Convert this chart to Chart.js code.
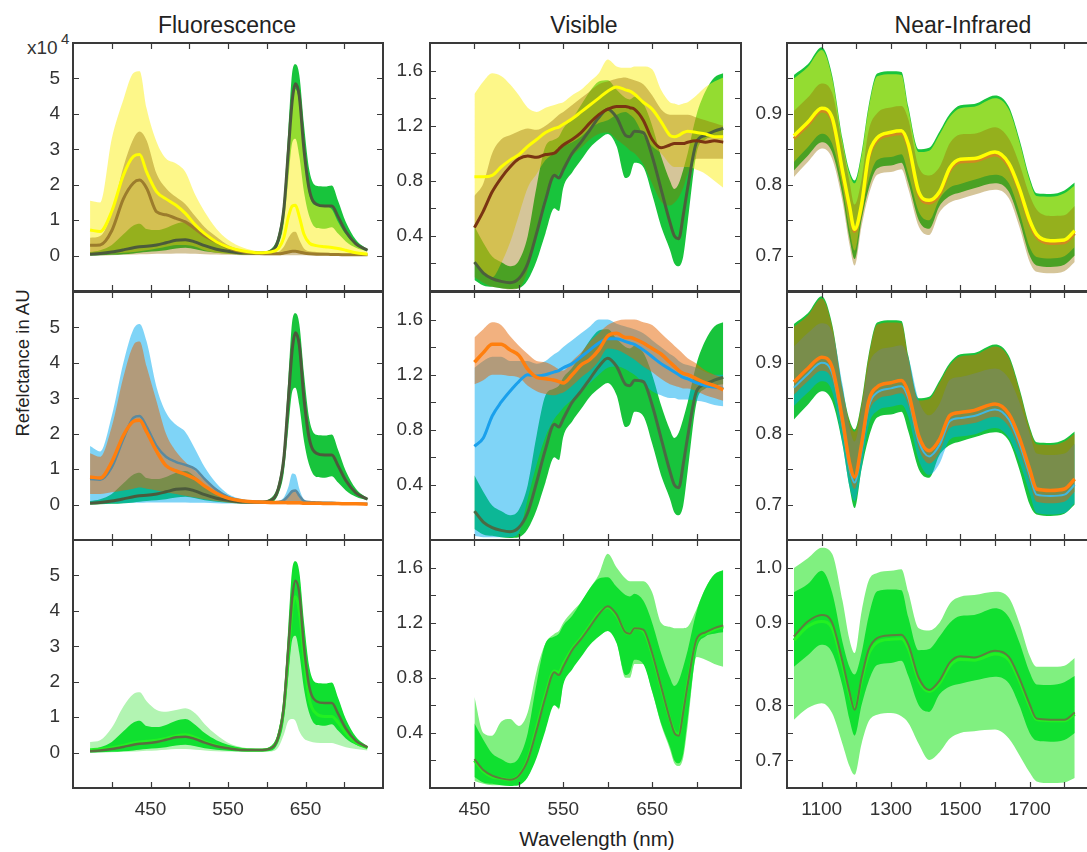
<!DOCTYPE html>
<html>
<head>
<meta charset="utf-8">
<script src="https://cdn.jsdelivr.net/npm/chart.js@4.4.1/dist/chart.umd.min.js"></script>
<style>
html, body { margin: 0; padding: 0; width: 1087px; height: 852px; overflow: hidden; background: #fff; }
body { position: relative; font-family: 'Liberation Sans', Arial, sans-serif; color: #222; }
canvas { position: absolute; }
.lbl { position: absolute; white-space: nowrap; line-height: 1; }
</style>
</head>
<body>
<div class="lbl" style="left:227px;top:14px;font-size:23px;transform:translateX(-50%)">Fluorescence</div>
<div class="lbl" style="left:584px;top:14px;font-size:23px;transform:translateX(-50%)">Visible</div>
<div class="lbl" style="left:963px;top:14px;font-size:23px;transform:translateX(-50%)">Near-Infrared</div>
<div class="lbl" style="left:27px;top:38px;font-size:19px;color:#333">x10</div>
<div class="lbl" style="left:61px;top:31px;font-size:15px;color:#333">4</div>
<div class="lbl" style="left:23px;top:363px;font-size:18.5px;transform:translate(-50%,-50%) rotate(-90deg)">Refelctance in AU</div>
<div class="lbl" style="left:597px;top:829px;font-size:20.5px;transform:translateX(-50%)">Wavelength (nm)</div>
<script>
// ---- wavelengths (nm) ----
const fluoWl = [372, 385, 400, 415, 428, 436, 445, 458, 470, 483, 495, 508, 520, 535, 550, 570, 590, 605, 615, 622, 628, 633, 637, 642, 648, 655, 664, 675, 684, 692, 702, 715, 730];
const visWl = [450, 460, 470, 480, 490, 500, 510, 520, 530, 540, 545, 550, 560, 570, 580, 590, 600, 610, 620, 625, 630, 640, 650, 660, 670, 675, 680, 685, 690, 700, 710, 720, 730];
const nirWl = [1020, 1060, 1100, 1130, 1160, 1180, 1195, 1215, 1235, 1260, 1300, 1330, 1350, 1380, 1410, 1440, 1470, 1500, 1540, 1600, 1640, 1670, 1700, 1720, 1760, 1800, 1830];

// ---- tick positions / labels ----
const fluoXTicks = [400, 450, 500, 550, 600, 650, 700];
const fluoXLabels = [450, 550, 650];
const visXTicks = [450, 500, 550, 600, 650, 700];
const visXLabels = [450, 550, 650];
const nirXTicks = [1100, 1200, 1300, 1400, 1500, 1600, 1700, 1800];
const nirXLabels = [1100, 1300, 1500, 1700];
const fluoYTicks = [0, 1, 2, 3, 4, 5];
const visYTicks = [0.2, 0.4, 0.6, 0.8, 1.0, 1.2, 1.4, 1.6];
const visYLabels = [0.4, 0.8, 1.2, 1.6];
const nirYTicks = [0.7, 0.75, 0.8, 0.85, 0.9, 0.95];
const nirYLabels = [0.7, 0.8, 0.9];
const nirRow3TickValues = [1.0, 0.95, 0.9, 0.85, 0.8, 0.75, 0.7, 0.65];
const nirRow3TickLabels = ['1.0', '', '0.9', '', '', '0.8', '', '0.7'];

// ---- Fluorescence (x10^4) ----
const fluoGreenUp   = [0.1, 0.15, 0.3, 0.6, 0.85, 0.9, 0.75, 0.72, 0.78, 0.9, 0.95, 0.78, 0.55, 0.35, 0.22, 0.12, 0.1, 0.18, 0.6, 1.6, 3.6, 5.2, 5.4, 5.1, 3.7, 2.4, 1.97, 1.95, 1.98, 1.55, 0.95, 0.45, 0.18];
const fluoGreenLow  = [0, 0.01, 0.02, 0.04, 0.06, 0.08, 0.1, 0.12, 0.15, 0.2, 0.22, 0.18, 0.12, 0.08, 0.05, 0.03, 0.03, 0.05, 0.3, 0.9, 2.2, 3.2, 3.3, 2.8, 1.8, 1.1, 0.78, 0.76, 0.8, 0.62, 0.4, 0.22, 0.12];
const fluoGreenMean = [0.04, 0.06, 0.1, 0.16, 0.22, 0.25, 0.26, 0.3, 0.36, 0.43, 0.45, 0.38, 0.28, 0.18, 0.12, 0.07, 0.07, 0.12, 0.45, 1.3, 3.0, 4.4, 4.85, 4.5, 3.0, 1.85, 1.45, 1.4, 1.4, 1.1, 0.68, 0.33, 0.15];
const fluoYellowUp   = [1.55, 1.5, 3.3, 4.4, 5.15, 5.2, 4.15, 3.2, 2.74, 2.6, 2.36, 1.7, 1.23, 0.76, 0.45, 0.22, 0.12, 0.1, 0.3, 1.0, 2.8, 4.2, 4.7, 4.3, 2.9, 1.7, 1.42, 1.4, 1.3, 0.95, 0.6, 0.3, 0.1];
const fluoYellowLow  = [0.05, 0.05, 0.06, 0.08, 0.1, 0.12, 0.15, 0.2, 0.25, 0.3, 0.3, 0.25, 0.15, 0.08, 0.05, 0.03, 0.02, 0.02, 0.03, 0.05, 0.08, 0.1, 0.1, 0.08, 0.06, 0.05, 0.05, 0.05, 0.04, 0.03, 0.02, 0.01, 0];
const fluoYellowMean = [0.72, 0.68, 1.25, 2.27, 2.8, 2.85, 2.36, 1.8, 1.6, 1.42, 1.19, 0.86, 0.62, 0.39, 0.24, 0.13, 0.08, 0.1, 0.2, 0.5, 1.1, 1.4, 1.42, 1.1, 0.6, 0.35, 0.28, 0.25, 0.23, 0.2, 0.15, 0.08, 0.04];
const fluoBrownUp   = [0.5, 0.55, 1.2, 2.5, 3.3, 3.5, 3.25, 2.3, 1.9, 1.65, 1.45, 1.1, 0.8, 0.53, 0.3, 0.15, 0.08, 0.07, 0.1, 0.25, 0.5, 0.65, 0.67, 0.45, 0.2, 0.12, 0.1, 0.08, 0.07, 0.06, 0.05, 0.04, 0.03];
const fluoBrownLow  = [0, 0, 0.01, 0.02, 0.03, 0.04, 0.04, 0.05, 0.05, 0.06, 0.06, 0.05, 0.04, 0.03, 0.02, 0.01, 0.01, 0.01, 0.01, 0.01, 0.01, 0.01, 0.01, 0.01, 0.01, 0.01, 0.01, 0.01, 0, 0, 0, 0, 0];
const fluoBrownMean = [0.29, 0.3, 0.7, 1.6, 2.05, 2.13, 1.9, 1.23, 1.15, 1.05, 0.95, 0.75, 0.55, 0.39, 0.22, 0.1, 0.06, 0.05, 0.05, 0.07, 0.1, 0.12, 0.12, 0.1, 0.07, 0.05, 0.04, 0.04, 0.03, 0.03, 0.02, 0.02, 0.02];
const fluoBlueUp   = [1.65, 1.5, 2.5, 4.0, 4.95, 5.1, 4.6, 3.3, 2.6, 2.25, 2.05, 1.55, 1.05, 0.6, 0.3, 0.15, 0.08, 0.07, 0.1, 0.2, 0.5, 0.88, 0.85, 0.45, 0.15, 0.1, 0.08, 0.08, 0.07, 0.06, 0.05, 0.04, 0.03];
const fluoBlueLow  = [0.02, 0.02, 0.03, 0.04, 0.05, 0.05, 0.06, 0.06, 0.06, 0.06, 0.06, 0.05, 0.05, 0.04, 0.03, 0.03, 0.02, 0.02, 0.02, 0.02, 0.03, 0.04, 0.04, 0.03, 0.02, 0.02, 0.02, 0.02, 0.02, 0.01, 0.01, 0.01, 0.01];
const fluoBlueMean = [0.72, 0.7, 1.05, 1.85, 2.45, 2.5, 2.2, 1.65, 1.35, 1.2, 1.12, 1.0, 0.72, 0.42, 0.22, 0.1, 0.07, 0.06, 0.07, 0.12, 0.25, 0.38, 0.4, 0.25, 0.1, 0.07, 0.06, 0.05, 0.05, 0.04, 0.04, 0.03, 0.02];
const fluoOrangeUp   = [1.45, 1.35, 2.2, 3.6, 4.5, 4.6, 3.9, 2.9, 2.0, 1.5, 1.2, 0.95, 0.7, 0.45, 0.25, 0.12, 0.07, 0.05, 0.06, 0.1, 0.25, 0.38, 0.38, 0.2, 0.08, 0.05, 0.04, 0.04, 0.03, 0.03, 0.03, 0.02, 0.02];
const fluoOrangeLow  = [0.3, 0.3, 0.35, 0.4, 0.45, 0.48, 0.45, 0.4, 0.35, 0.3, 0.25, 0.2, 0.15, 0.1, 0.06, 0.03, 0.02, 0.01, 0.01, 0.01, 0.01, 0.01, 0.01, 0.01, 0.01, 0.01, 0.01, 0.01, 0, 0, 0, 0, 0];
const fluoOrangeMean = [0.78, 0.75, 1.2, 1.95, 2.35, 2.38, 2.05, 1.5, 1.1, 0.95, 0.85, 0.72, 0.52, 0.32, 0.18, 0.1, 0.07, 0.06, 0.06, 0.06, 0.05, 0.05, 0.05, 0.05, 0.04, 0.04, 0.04, 0.03, 0.03, 0.03, 0.02, 0.02, 0.01];
const fluoLightUp  = [0.3, 0.35, 0.7, 1.3, 1.65, 1.7, 1.45, 1.2, 1.15, 1.2, 1.25, 1.1, 0.8, 0.5, 0.28, 0.14, 0.1, 0.15, 0.58, 1.55, 3.5, 5.1, 5.3, 5.0, 3.6, 2.3, 1.9, 1.9, 1.92, 1.5, 0.92, 0.44, 0.18];
const fluoLightLow = [0, 0, 0.01, 0.02, 0.03, 0.04, 0.05, 0.06, 0.08, 0.1, 0.1, 0.08, 0.06, 0.04, 0.03, 0.02, 0.02, 0.03, 0.15, 0.5, 0.9, 0.95, 0.9, 0.6, 0.4, 0.32, 0.28, 0.27, 0.27, 0.22, 0.15, 0.1, 0.06];
const fluoLimeMean = [0.08, 0.1, 0.14, 0.2, 0.27, 0.3, 0.32, 0.35, 0.4, 0.47, 0.5, 0.42, 0.3, 0.2, 0.13, 0.08, 0.07, 0.12, 0.45, 1.25, 2.8, 4.1, 4.4, 4.0, 2.7, 1.5, 1.1, 1.02, 1.02, 0.85, 0.55, 0.28, 0.13];

// ---- Visible ----
const visGreenUp   = [0.47, 0.35, 0.25, 0.21, 0.18, 0.22, 0.4, 0.76, 1.05, 1.1, 1.12, 1.18, 1.25, 1.35, 1.45, 1.52, 1.53, 1.46, 1.4, 1.39, 1.41, 1.36, 1.2, 0.98, 0.8, 0.74, 0.78, 0.88, 1.0, 1.28, 1.45, 1.55, 1.58];
const visGreenLow  = [0.08, 0.04, 0.03, 0.02, 0.015, 0.02, 0.08, 0.22, 0.42, 0.6, 0.58, 0.75, 0.86, 0.95, 1.04, 1.1, 1.14, 1.05, 0.82, 0.84, 0.93, 0.9, 0.7, 0.47, 0.3, 0.2, 0.18, 0.25, 0.5, 1.0, 1.1, 1.12, 1.13];
const visGreenMean = [0.21, 0.13, 0.09, 0.07, 0.06, 0.09, 0.2, 0.42, 0.66, 0.84, 0.82, 0.88, 1.0, 1.08, 1.17, 1.26, 1.32, 1.26, 1.13, 1.12, 1.16, 1.15, 0.98, 0.74, 0.5, 0.4, 0.38, 0.55, 0.75, 1.08, 1.13, 1.16, 1.18];
const visYellowUp   = [1.43, 1.52, 1.58, 1.56, 1.5, 1.42, 1.33, 1.3, 1.33, 1.35, 1.36, 1.37, 1.42, 1.46, 1.52, 1.58, 1.68, 1.63, 1.62, 1.62, 1.63, 1.63, 1.61, 1.46, 1.37, 1.36, 1.35, 1.36, 1.37, 1.42, 1.48, 1.52, 1.55];
const visYellowLow  = [0.2, 0.12, 0.1, 0.2, 0.35, 0.55, 0.75, 0.85, 0.95, 1.0, 1.02, 1.05, 1.08, 1.12, 1.18, 1.22, 1.24, 1.28, 1.3, 1.28, 1.25, 1.13, 1.05, 1.0, 0.92, 0.9, 0.9, 0.9, 0.9, 0.88, 0.85, 0.8, 0.75];
const visYellowMean = [0.83, 0.83, 0.84, 0.9, 0.95, 0.99, 1.05, 1.1, 1.15, 1.18, 1.19, 1.21, 1.25, 1.3, 1.35, 1.4, 1.45, 1.48, 1.46, 1.45, 1.43, 1.37, 1.32, 1.23, 1.13, 1.12, 1.13, 1.15, 1.16, 1.15, 1.14, 1.12, 1.12];
const visBrownUp   = [0.69, 0.78, 1.0, 1.1, 1.13, 1.16, 1.18, 1.17, 1.2, 1.25, 1.28, 1.3, 1.35, 1.4, 1.45, 1.5, 1.52, 1.54, 1.55, 1.54, 1.53, 1.5, 1.42, 1.32, 1.28, 1.28, 1.28, 1.28, 1.28, 1.26, 1.24, 1.22, 1.2];
const visBrownLow  = [0.1, 0.06, 0.03, 0.02, 0.01, 0.02, 0.15, 0.45, 0.7, 0.82, 0.85, 0.9, 0.98, 1.04, 1.1, 1.14, 1.15, 1.1, 1.05, 1.02, 1.0, 0.92, 0.78, 0.65, 0.62, 0.64, 0.68, 0.75, 0.85, 0.96, 0.96, 0.96, 0.96];
const visBrownMean = [0.46, 0.58, 0.72, 0.82, 0.9, 0.96, 0.98, 0.97, 0.99, 1.0, 1.03, 1.06, 1.1, 1.15, 1.22, 1.28, 1.32, 1.34, 1.34, 1.33, 1.32, 1.24, 1.1, 1.04, 1.06, 1.07, 1.07, 1.07, 1.08, 1.09, 1.08, 1.09, 1.08];
const visBlueUp   = [1.25, 1.3, 1.33, 1.33, 1.3, 1.3, 1.3, 1.28, 1.3, 1.35, 1.37, 1.4, 1.45, 1.5, 1.55, 1.6, 1.6, 1.57, 1.55, 1.54, 1.53, 1.5, 1.45, 1.4, 1.35, 1.33, 1.3, 1.28, 1.27, 1.25, 1.22, 1.2, 1.2];
const visBlueLow  = [0.03, 0.02, 0.02, 0.02, 0.02, 0.05, 0.3, 0.55, 0.75, 0.88, 0.92, 0.96, 1.02, 1.08, 1.14, 1.2, 1.25, 1.26, 1.24, 1.22, 1.2, 1.14, 1.08, 1.05, 1.03, 1.03, 1.02, 1.02, 1.02, 1.01, 1.0, 0.98, 0.97];
const visBlueMean = [0.68, 0.74, 0.9, 1.0, 1.08, 1.15, 1.2, 1.19, 1.2, 1.22, 1.23, 1.25, 1.28, 1.33, 1.38, 1.43, 1.46, 1.46, 1.44, 1.43, 1.42, 1.38, 1.33, 1.28, 1.24, 1.22, 1.2, 1.18, 1.17, 1.14, 1.12, 1.11, 1.1];
const visOrangeUp   = [1.47, 1.53, 1.58, 1.56, 1.48, 1.41, 1.35, 1.3, 1.29, 1.26, 1.24, 1.23, 1.3, 1.36, 1.44, 1.5, 1.56, 1.59, 1.6, 1.6, 1.6, 1.58, 1.56, 1.5, 1.44, 1.41, 1.38, 1.35, 1.32, 1.28, 1.23, 1.2, 1.18];
const visOrangeLow  = [1.13, 1.16, 1.2, 1.2, 1.19, 1.18, 1.12, 1.08, 1.06, 1.05, 1.06, 1.07, 1.12, 1.18, 1.23, 1.3, 1.39, 1.38, 1.35, 1.33, 1.31, 1.26, 1.22, 1.17, 1.13, 1.12, 1.11, 1.1, 1.1, 1.08, 1.05, 1.03, 1.01];
const visOrangeMean = [1.29, 1.36, 1.42, 1.42, 1.38, 1.34, 1.24, 1.18, 1.17, 1.16, 1.15, 1.14, 1.2, 1.27, 1.31, 1.38, 1.48, 1.5, 1.47, 1.47, 1.46, 1.43, 1.39, 1.35, 1.29, 1.26, 1.23, 1.21, 1.2, 1.17, 1.14, 1.12, 1.09];
const visLightUp  = [0.66, 0.4, 0.38, 0.48, 0.5, 0.45, 0.55, 0.85, 1.05, 1.12, 1.14, 1.2, 1.28, 1.35, 1.45, 1.55, 1.7, 1.6, 1.52, 1.5, 1.5, 1.5, 1.42, 1.2, 1.17, 1.16, 1.16, 1.16, 1.17, 1.3, 1.45, 1.55, 1.58];
const visLightLow = [0.05, 0.03, 0.02, 0.02, 0.02, 0.03, 0.08, 0.25, 0.5, 0.62, 0.57, 0.78, 0.9, 0.97, 1.04, 1.1, 1.14, 1.06, 0.8, 0.8, 0.9, 0.9, 0.7, 0.46, 0.28, 0.18, 0.16, 0.22, 0.45, 0.95, 0.93, 0.9, 0.88];
const visLimeMean = [0.2, 0.12, 0.08, 0.07, 0.06, 0.09, 0.21, 0.44, 0.68, 0.85, 0.84, 0.9, 1.01, 1.09, 1.18, 1.27, 1.31, 1.25, 1.13, 1.12, 1.16, 1.14, 0.97, 0.73, 0.5, 0.41, 0.39, 0.56, 0.76, 1.07, 1.12, 1.15, 1.17];

// ---- Near-infrared ----
const nirGreenUp   = [0.955, 0.97, 0.994, 0.955, 0.865, 0.82, 0.806, 0.845, 0.91, 0.957, 0.96, 0.959, 0.91, 0.85, 0.852, 0.875, 0.9, 0.912, 0.914, 0.926, 0.91, 0.865, 0.81, 0.788, 0.787, 0.792, 0.803];
const nirGreenLow  = [0.82, 0.841, 0.86, 0.846, 0.785, 0.725, 0.695, 0.75, 0.793, 0.823, 0.827, 0.831, 0.803, 0.75, 0.738, 0.77, 0.784, 0.789, 0.795, 0.802, 0.79, 0.75, 0.7, 0.686, 0.684, 0.687, 0.7];
const nirGreenMean = [0.875, 0.902, 0.914, 0.9, 0.83, 0.775, 0.742, 0.8, 0.85, 0.872, 0.877, 0.878, 0.86, 0.8, 0.778, 0.795, 0.828, 0.839, 0.837, 0.849, 0.838, 0.8, 0.752, 0.726, 0.724, 0.724, 0.737];
const nirYellowUp   = [0.95, 0.966, 0.99, 0.951, 0.861, 0.816, 0.802, 0.841, 0.906, 0.953, 0.956, 0.955, 0.906, 0.846, 0.848, 0.871, 0.896, 0.908, 0.91, 0.922, 0.906, 0.861, 0.806, 0.784, 0.783, 0.788, 0.799];
const nirYellowLow  = [0.832, 0.853, 0.872, 0.858, 0.797, 0.737, 0.707, 0.762, 0.805, 0.835, 0.839, 0.843, 0.815, 0.762, 0.75, 0.78, 0.796, 0.801, 0.807, 0.814, 0.802, 0.762, 0.712, 0.698, 0.696, 0.699, 0.712];
const nirYellowMean = [0.869, 0.888, 0.908, 0.895, 0.82, 0.77, 0.737, 0.772, 0.84, 0.866, 0.874, 0.876, 0.857, 0.79, 0.778, 0.79, 0.824, 0.836, 0.837, 0.846, 0.83, 0.795, 0.75, 0.73, 0.721, 0.722, 0.735];
const nirBrownUp   = [0.904, 0.923, 0.943, 0.93, 0.855, 0.805, 0.772, 0.807, 0.875, 0.901, 0.909, 0.911, 0.892, 0.825, 0.813, 0.825, 0.859, 0.871, 0.872, 0.881, 0.865, 0.83, 0.785, 0.765, 0.756, 0.757, 0.77];
const nirBrownLow  = [0.811, 0.832, 0.851, 0.837, 0.776, 0.716, 0.686, 0.741, 0.784, 0.814, 0.818, 0.822, 0.794, 0.741, 0.729, 0.761, 0.775, 0.78, 0.786, 0.793, 0.781, 0.741, 0.691, 0.677, 0.675, 0.678, 0.691];
const nirBrownMean = [0.865, 0.884, 0.904, 0.891, 0.816, 0.766, 0.734, 0.768, 0.836, 0.862, 0.87, 0.872, 0.853, 0.786, 0.774, 0.786, 0.82, 0.832, 0.833, 0.842, 0.826, 0.791, 0.746, 0.726, 0.717, 0.718, 0.731];
const nirBlueUp   = [0.923, 0.942, 0.956, 0.944, 0.87, 0.81, 0.789, 0.835, 0.895, 0.916, 0.922, 0.925, 0.908, 0.847, 0.826, 0.842, 0.876, 0.88, 0.885, 0.892, 0.878, 0.845, 0.8, 0.772, 0.77, 0.772, 0.786];
const nirBlueLow  = [0.839, 0.858, 0.874, 0.86, 0.786, 0.726, 0.705, 0.751, 0.811, 0.832, 0.838, 0.841, 0.824, 0.763, 0.742, 0.758, 0.792, 0.796, 0.799, 0.808, 0.794, 0.761, 0.716, 0.688, 0.686, 0.688, 0.702];
const nirBlueMean = [0.865, 0.884, 0.9, 0.886, 0.812, 0.752, 0.731, 0.777, 0.837, 0.858, 0.864, 0.867, 0.85, 0.789, 0.768, 0.784, 0.818, 0.822, 0.825, 0.834, 0.82, 0.787, 0.742, 0.714, 0.712, 0.714, 0.728];
const nirOrangeUp   = [0.951, 0.967, 0.991, 0.952, 0.862, 0.817, 0.803, 0.842, 0.907, 0.954, 0.957, 0.956, 0.907, 0.847, 0.849, 0.872, 0.897, 0.909, 0.911, 0.923, 0.907, 0.862, 0.807, 0.785, 0.784, 0.789, 0.8];
const nirOrangeLow  = [0.855, 0.874, 0.889, 0.876, 0.802, 0.742, 0.722, 0.767, 0.827, 0.848, 0.854, 0.857, 0.84, 0.779, 0.758, 0.774, 0.808, 0.812, 0.815, 0.824, 0.81, 0.777, 0.732, 0.704, 0.702, 0.704, 0.718];
const nirOrangeMean = [0.873, 0.892, 0.908, 0.894, 0.82, 0.76, 0.739, 0.785, 0.845, 0.866, 0.872, 0.875, 0.858, 0.797, 0.776, 0.792, 0.826, 0.83, 0.833, 0.842, 0.828, 0.795, 0.75, 0.722, 0.72, 0.722, 0.736];
const nirLightUp  = [0.999, 1.017, 1.036, 1.025, 0.94, 0.87, 0.845, 0.92, 0.975, 0.99, 0.994, 0.997, 0.955, 0.89, 0.886, 0.9, 0.935, 0.947, 0.95, 0.956, 0.945, 0.9, 0.84, 0.82, 0.82, 0.822, 0.836];
const nirLightLow = [0.724, 0.745, 0.754, 0.736, 0.68, 0.64, 0.624, 0.68, 0.72, 0.733, 0.736, 0.73, 0.718, 0.68, 0.651, 0.665, 0.69, 0.7, 0.703, 0.706, 0.69, 0.66, 0.628, 0.612, 0.609, 0.61, 0.618];
const nirLimeMean = [0.868, 0.893, 0.902, 0.89, 0.822, 0.77, 0.745, 0.795, 0.842, 0.864, 0.87, 0.871, 0.853, 0.795, 0.775, 0.79, 0.822, 0.833, 0.832, 0.843, 0.832, 0.795, 0.748, 0.724, 0.722, 0.722, 0.734];

// ---- colours ----
const GREEN = 'rgb(24,196,60)';
const YELLOW = 'rgba(252,240,40,0.55)';
const BROWN = 'rgba(150,110,0,0.4)';
const BLUE = 'rgba(0,170,240,0.5)';
const ORANGE = 'rgba(230,100,0,0.5)';
const INNER = 'rgb(16,224,48)';
const OUTER = 'rgb(128,240,128)';
const OUTER_FLUO = 'rgb(178,244,178)';

Chart.defaults.font.family = "'Liberation Sans', Arial, sans-serif";
Chart.defaults.font.size = 19;
Chart.defaults.color = '#333';

const COLS = [
  { left: 73, width: 310, xMin: 350, xMax: 750, yAxis: 60, pad: 13, xTicks: fluoXTicks, xLabels: fluoXLabels },
  { left: 430, width: 311, xMin: 400, xMax: 750, yAxis: 60, pad: 7, xTicks: visXTicks, xLabels: visXLabels },
  { left: 787, width: 312, xMin: 1000, xMax: 1900, yAxis: 50, pad: 5, xTicks: nirXTicks, xLabels: nirXLabels }
];
const ROW_TOP = [43, 292, 540];
const PANEL_H = 248;

const fluoY = { min: -1, max: 6, ticks: fluoYTicks, labels: fluoYTicks, fmt: v => String(v) };
const visY = { min: 0, max: 1.8, ticks: visYTicks, labels: visYLabels, fmt: v => v.toFixed(1) };
const nirY = { min: 0.65, max: 1.0, ticks: nirYTicks, labels: nirYLabels, fmt: v => v.toFixed(1) };
const nirY3 = {
  min: 0.6, max: 1.05, ticks: nirRow3TickValues,
  labels: nirRow3TickValues.filter((v, i) => nirRow3TickLabels[i] !== ''),
  fmt: v => nirRow3TickLabels[nirRow3TickValues.indexOf(v)]
};

// box round each panel with inward ticks on all sides (MATLAB look)
const framePlugin = {
  id: 'frame',
  afterDraw(chart, args, o) {
    const { ctx, chartArea: a } = chart;
    const x = chart.scales.x, y = chart.scales.y;
    ctx.save();
    ctx.strokeStyle = '#3a3a3a';
    ctx.lineWidth = 1.2;
    ctx.beginPath();
    o.xTicks.forEach(v => {
      const p = Math.round(x.getPixelForValue(v)) + 0.5;
      ctx.moveTo(p, a.bottom); ctx.lineTo(p, a.bottom - 6);
      ctx.moveTo(p, a.top); ctx.lineTo(p, a.top + 6);
    });
    o.yTicks.forEach(v => {
      const p = Math.round(y.getPixelForValue(v)) + 0.5;
      ctx.moveTo(a.left, p); ctx.lineTo(a.left + 6, p);
      ctx.moveTo(a.right, p); ctx.lineTo(a.right - 6, p);
    });
    ctx.stroke();
    ctx.lineWidth = 2;
    ctx.strokeRect(a.left, a.top, a.right - a.left, a.bottom - a.top);
    ctx.restore();
  }
};

function pts(wl, vals) {
  return wl.map((w, i) => ({ x: w, y: vals[i] }));
}

function band(wl, up, low, color, order) {
  return [
    { data: pts(wl, up), fill: '+1', backgroundColor: color, borderColor: 'rgba(0,0,0,0)', borderWidth: 0, pointRadius: 0, order },
    { data: pts(wl, low), fill: false, borderColor: 'rgba(0,0,0,0)', borderWidth: 0, pointRadius: 0, order }
  ];
}

function line(wl, vals, color, width, order) {
  return { data: pts(wl, vals), fill: false, borderColor: color, borderWidth: width, pointRadius: 0, order };
}

function makePanel(col, row, yAxis, datasets) {
  const c = COLS[col];
  const showX = row === 2;
  const padT = 3, padR = 3, padB = 3;
  const xAxH = showX ? 40 : 0;
  const W = c.yAxis + c.width + padR;
  const H = padT + PANEL_H + xAxH + padB;
  const cv = document.createElement('canvas');
  cv.width = W;
  cv.height = H;
  cv.style.left = (c.left - c.yAxis) + 'px';
  cv.style.top = (ROW_TOP[row] - padT) + 'px';
  cv.style.width = W + 'px';
  cv.style.height = H + 'px';
  document.body.appendChild(cv);

  new Chart(cv, {
    type: 'line',
    data: { datasets },
    options: {
      responsive: false,
      devicePixelRatio: 1,
      animation: false,
      layout: { padding: { top: padT, right: padR, bottom: padB, left: 0 } },
      elements: { line: { cubicInterpolationMode: 'monotone' } },
      plugins: {
        legend: { display: false },
        tooltip: { enabled: false },
        frame: { xTicks: c.xTicks, yTicks: yAxis.ticks }
      },
      scales: {
        x: {
          type: 'linear', min: c.xMin, max: c.xMax, display: showX,
          grid: { display: false, drawTicks: false },
          border: { display: false },
          ticks: { padding: 10, maxRotation: 0, callback: v => String(v) },
          afterBuildTicks: s => { s.ticks = c.xLabels.map(v => ({ value: v })); },
          afterFit: s => { s.height = xAxH; s.paddingLeft = 0; s.paddingRight = 0; }
        },
        y: {
          type: 'linear', min: yAxis.min, max: yAxis.max,
          grid: { display: false, drawTicks: false },
          border: { display: false },
          ticks: { padding: c.pad, callback: yAxis.fmt },
          afterBuildTicks: s => { s.ticks = yAxis.labels.map(v => ({ value: v })); },
          afterFit: s => { s.width = c.yAxis; s.paddingTop = 0; s.paddingBottom = 0; }
        }
      }
    },
    plugins: [framePlugin]
  });
}

// ---- row 1 ----
makePanel(0, 0, fluoY, [
  ...band(fluoWl, fluoGreenUp, fluoGreenLow, GREEN, 30),
  ...band(fluoWl, fluoYellowUp, fluoYellowLow, YELLOW, 20),
  ...band(fluoWl, fluoBrownUp, fluoBrownLow, BROWN, 10),
  line(fluoWl, fluoGreenMean, '#4b5a3c', 3, 3),
  line(fluoWl, fluoBrownMean, '#9c7c2c', 3, 2),
  line(fluoWl, fluoYellowMean, '#ffff00', 3, 1)
]);
makePanel(1, 0, visY, [
  ...band(visWl, visGreenUp, visGreenLow, GREEN, 30),
  ...band(visWl, visYellowUp, visYellowLow, YELLOW, 20),
  ...band(visWl, visBrownUp, visBrownLow, BROWN, 10),
  line(visWl, visGreenMean, '#4b603c', 3, 3),
  line(visWl, visBrownMean, '#7a3412', 3, 2),
  line(visWl, visYellowMean, '#ffff00', 3, 1)
]);
makePanel(2, 0, nirY, [
  ...band(nirWl, nirGreenUp, nirGreenLow, GREEN, 30),
  ...band(nirWl, nirYellowUp, nirYellowLow, YELLOW, 20),
  ...band(nirWl, nirBrownUp, nirBrownLow, BROWN, 10),
  line(nirWl, nirBrownMean, '#d08a20', 3, 2),
  line(nirWl, nirYellowMean, '#ffff00', 3.5, 1)
]);

// ---- row 2 ----
makePanel(0, 1, fluoY, [
  ...band(fluoWl, fluoGreenUp, fluoGreenLow, GREEN, 30),
  ...band(fluoWl, fluoBlueUp, fluoBlueLow, BLUE, 20),
  ...band(fluoWl, fluoOrangeUp, fluoOrangeLow, ORANGE, 10),
  line(fluoWl, fluoGreenMean, '#4b5a3c', 3, 3),
  line(fluoWl, fluoBlueMean, '#5a8aa0', 2.5, 2),
  line(fluoWl, fluoOrangeMean, '#ff7f0e', 3.5, 1)
]);
makePanel(1, 1, visY, [
  ...band(visWl, visGreenUp, visGreenLow, GREEN, 30),
  ...band(visWl, visBlueUp, visBlueLow, BLUE, 20),
  ...band(visWl, visOrangeUp, visOrangeLow, ORANGE, 10),
  line(visWl, visGreenMean, '#4a6a44', 3, 3),
  line(visWl, visBlueMean, '#1aa0ec', 3, 2),
  line(visWl, visOrangeMean, '#ff7f0e', 3.5, 1)
]);
makePanel(2, 1, nirY, [
  ...band(nirWl, nirGreenUp, nirGreenLow, GREEN, 30),
  ...band(nirWl, nirBlueUp, nirBlueLow, BLUE, 20),
  ...band(nirWl, nirOrangeUp, nirOrangeLow, ORANGE, 10),
  line(nirWl, nirBlueMean, '#40b8e0', 2, 2),
  line(nirWl, nirOrangeMean, '#ff7f0e', 3.5, 1)
]);

// ---- row 3 ----
makePanel(0, 2, fluoY, [
  ...band(fluoWl, fluoLightUp, fluoLightLow, OUTER_FLUO, 30),
  ...band(fluoWl, fluoGreenUp, fluoGreenLow, INNER, 20),
  line(fluoWl, fluoLimeMean, '#22f022', 3, 2),
  line(fluoWl, fluoGreenMean, '#5a6e40', 2.5, 1)
]);
makePanel(1, 2, visY, [
  ...band(visWl, visLightUp, visLightLow, OUTER, 30),
  ...band(visWl, visGreenUp, visGreenLow, INNER, 20),
  line(visWl, visLimeMean, '#22f022', 3, 2),
  line(visWl, visGreenMean, '#5e7e3e', 2, 1)
]);
makePanel(2, 2, nirY3, [
  ...band(nirWl, nirLightUp, nirLightLow, OUTER, 30),
  ...band(nirWl, nirGreenUp, nirGreenLow, INNER, 20),
  line(nirWl, nirLimeMean, '#22f022', 3, 2),
  line(nirWl, nirGreenMean, '#5e7e3e', 2, 1)
]);
</script>
</body>
</html>
